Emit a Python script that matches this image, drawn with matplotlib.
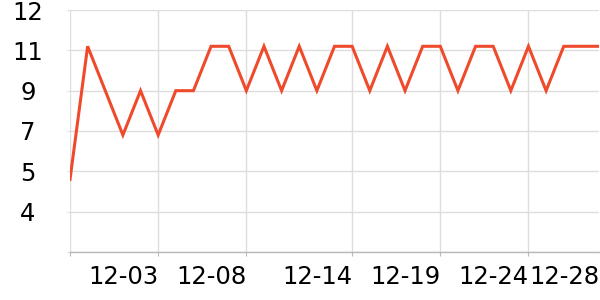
import numpy as np
import pandas as pd
import matplotlib
matplotlib.use('Agg')
import matplotlib.pyplot as plt

# daily values, 11-28 .. 12-28
dates = pd.date_range('2023-11-28', '2023-12-28', freq='D')
values = [4.8, 11.1, 9, 6.8, 9, 6.8, 9, 9, 11.1, 11.1,
          9, 11.1, 9, 11.1, 9, 11.1, 11.1, 9, 11.1, 9,
          11.1, 11.1, 9, 11.1, 11.1, 9, 11.1, 9, 11.1, 11.1, 11.1]

# the y axis is not linear: labelled ticks sit at even spacing
y_ticks = [3, 4, 5, 7, 9, 11, 12]
y_labels = ['', '4', '5', '7', '9', '11', '12']
x_tick_idx = [0, 5, 10, 16, 21, 26, 30]
x_labels = ['' if i == 0 else dates[i].strftime('%m-%d') for i in x_tick_idx]

pos = np.arange(len(y_ticks), dtype=float)

def fwd(v):
    return np.interp(v, y_ticks, pos, left=-1, right=7)

def inv(p):
    return np.interp(p, pos, y_ticks)

fig = plt.figure(figsize=(6, 3), dpi=100)
ax = fig.add_axes([70 / 600, 1 - 252 / 300, 529 / 600, 242 / 300])

x = np.arange(len(values))
ax.plot(x, values, color='#ef4a2c', linewidth=2.2, solid_joinstyle='miter', clip_on=True)

ax.set_yscale('function', functions=(fwd, inv))
ax.set_ylim(3, 12)
ax.set_xlim(0, 30)

ax.set_yticks(y_ticks)
ax.set_yticklabels(y_labels)
ax.set_xticks(x_tick_idx)
ax.set_xticklabels(x_labels, ha='right')

ax.grid(True, color='#dedede', linewidth=1)
ax.set_axisbelow(True)

for s in ['top', 'right', 'left']:
    ax.spines[s].set_visible(False)
ax.spines['bottom'].set_color('#b8b8b8')
ax.spines['bottom'].set_linewidth(1)

ax.tick_params(axis='y', length=2, color='#dedede', pad=28.4, labelsize=17.5)
for t in ax.get_yticklabels():
    t.set_horizontalalignment('center')
ax.tick_params(axis='x', length=3, color='#b8b8b8', pad=6, labelsize=17.5)
ax.xaxis.get_major_ticks()[-1].tick1line.set_visible(False)
ax.xaxis.get_major_ticks()[-1].gridline.set_visible(False)

fig.savefig('out.png', dpi=100)
